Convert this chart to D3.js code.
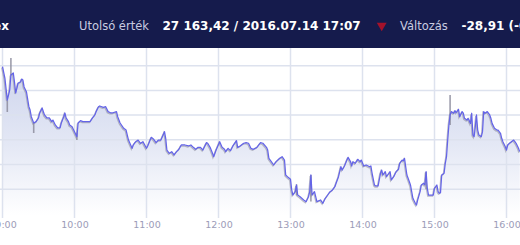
<!DOCTYPE html>
<html>
<head>
<meta charset="utf-8">
<script src="https://cdn.jsdelivr.net/npm/d3@7"></script>
<style>
    body { margin: 0; background: #fff; }
    svg { display: block; }
    .grid line { stroke: #dde2ee; stroke-width: 1.5; }
    .axis text { font-family: "DejaVu Sans", sans-serif; font-size: 9.5px; fill: #9c9cb8; }
    .head text { font-family: "DejaVu Sans", sans-serif; }
    .head .lbl { font-size: 11.5px; fill: #c9cce0; }
    .head .val { font-size: 12px; font-weight: bold; fill: #fff; }
</style>
</head>
<body>
<svg id="chart" width="520" height="245"></svg>
<script>
// BUX, 2016.07.14 intraday, minutes after 09:00
var minutes = [0, 2, 4, 6, 7, 9, 10, 11, 12, 13, 15, 16, 17, 18, 20, 22, 23, 24, 26, 28,
    30, 31, 33, 35, 37, 39, 41, 42, 44, 46, 48, 49, 51, 52, 53, 55, 56, 58, 60, 62,
    63, 65, 67, 70, 73, 75, 77, 78, 80, 81, 84, 86, 88, 90, 92, 95, 96, 98, 101, 103,
    105, 108, 109, 111, 113, 115, 117, 120, 121, 124, 126, 128, 130, 132, 133, 135, 136, 137, 139, 141,
    143, 145, 147, 149, 152, 155, 157, 159, 161, 163, 165, 167, 170, 171, 173, 175, 176, 178, 181, 183,
    185, 186, 188, 190, 192, 195, 196, 198, 201, 203, 205, 207, 209, 212, 215, 217, 220, 221, 222, 224,
    226, 228, 231, 233, 235, 236, 238, 240, 241, 242, 244, 245, 246, 248, 251, 253, 255, 256, 257, 258,
    260, 262, 265, 267, 269, 271, 273, 275, 277, 278, 280, 282, 283, 285, 287, 288, 290, 291, 292, 294,
    296, 298, 299, 301, 303, 306, 307, 308, 310, 311, 313, 315, 316, 317, 319, 320, 321, 323, 324, 326,
    328, 330, 331, 333, 334, 335, 337, 338, 340, 341, 342, 344, 345, 346, 348, 349, 351, 352, 353, 354,
    355, 358, 359, 360, 362, 363, 364, 365, 366, 368, 369, 370, 371, 372, 373, 374, 376, 377, 378, 380,
    381, 383, 384, 385, 387, 388, 390, 391, 392, 393, 394, 395, 396, 397, 399, 400, 401, 402, 404, 406,
    407, 408, 410, 412, 413, 415, 416, 417, 419, 420, 421, 423, 426, 427, 428, 430, 431];

var values = [27219.2, 27210.0, 27192.2, 27200.3, 27212.5, 27214.1, 27206.8, 27197.9, 27201.9, 27206.0,
    27206.8, 27209.2, 27208.4, 27202.8, 27198.7, 27186.8, 27184.1, 27178.7, 27173.6, 27174.7,
    27177.7, 27181.7, 27185.8, 27180.1, 27177.7, 27177.7, 27174.7, 27176.0, 27172.0, 27169.6,
    27169.6, 27173.6, 27178.7, 27181.7, 27177.7, 27174.7, 27172.0, 27170.6, 27166.6, 27162.5,
    27173.6, 27175.5, 27174.7, 27174.7, 27174.7, 27177.7, 27180.1, 27182.8, 27186.8, 27187.4,
    27186.3, 27186.8, 27182.8, 27181.9, 27181.9, 27182.8, 27178.7, 27173.6, 27169.3, 27167.9,
    27159.8, 27153.1, 27155.8, 27158.5, 27159.8, 27157.2, 27158.5, 27153.1, 27155.0, 27162.0,
    27160.4, 27157.7, 27159.8, 27159.8, 27162.0, 27166.6, 27161.2, 27151.7, 27149.1, 27150.4,
    27147.7, 27150.4, 27152.3, 27155.8, 27155.8, 27155.0, 27155.8, 27153.9, 27152.3, 27153.9,
    27153.9, 27151.7, 27157.7, 27157.2, 27153.9, 27149.1, 27146.3, 27151.7, 27158.5, 27153.9,
    27152.3, 27150.4, 27153.1, 27151.2, 27155.0, 27159.3, 27153.9, 27155.0, 27157.2, 27157.7,
    27157.2, 27153.1, 27152.3, 27153.9, 27157.7, 27157.2, 27153.9, 27151.7, 27145.0, 27142.3,
    27139.6, 27142.3, 27145.0, 27146.3, 27143.6, 27131.5, 27129.6, 27128.0, 27119.4, 27115.3,
    27118.0, 27123.4, 27115.3, 27113.9, 27111.3, 27109.9, 27113.9, 27118.0, 27131.5, 27115.3,
    27118.0, 27109.9, 27111.3, 27108.6, 27112.6, 27115.3, 27118.0, 27119.4, 27122.0, 27124.8,
    27130.1, 27138.2, 27135.5, 27138.8, 27143.6, 27145.8, 27142.3, 27138.8, 27142.3, 27141.0,
    27144.2, 27142.3, 27143.6, 27138.8, 27139.6, 27138.2, 27138.8, 27132.9, 27123.4, 27122.6,
    27122.6, 27132.9, 27135.5, 27131.5, 27134.2, 27130.1, 27131.5, 27134.2, 27127.5, 27130.1,
    27134.2, 27136.1, 27141.0, 27143.6, 27143.0, 27145.0, 27131.5, 27128.8, 27123.4, 27118.0,
    27112.6, 27108.6, 27107.2, 27111.3, 27118.0, 27123.4, 27124.8, 27123.4, 27134.2, 27120.7,
    27115.3, 27115.3, 27115.3, 27120.7, 27123.4, 27118.0, 27116.7, 27117.2, 27131.5, 27132.9,
    27141.0, 27146.3, 27159.8, 27172.0, 27180.1, 27182.8, 27181.5, 27183.6, 27181.9, 27184.7,
    27178.7, 27182.8, 27181.5, 27177.4, 27176.0, 27177.4, 27173.3, 27181.5, 27163.9, 27162.5,
    27170.6, 27180.1, 27167.9, 27163.9, 27162.5, 27166.6, 27182.8, 27181.5, 27182.8, 27180.1,
    27177.4, 27173.3, 27169.3, 27167.9, 27167.9, 27165.3, 27161.2, 27158.5, 27154.4, 27151.7,
    27155.8, 27157.7, 27159.8, 27158.5, 27157.2, 27153.1, 27150.4];

// grey min/max spikes behind the line
var wickMinutes = [4, 7, 26, 62, 245, 257, 353, 373];
var wickLow = [27182.5, 27212.5, 27165.5, 27159.8, 27115.0, 27110.0, 27120.0, 27172.0];
var wickHigh = [27192.0, 27226.2, 27174.0, 27166.0, 27124.0, 27131.5, 27134.0, 27196.3];

var yTicks = [27120, 27140, 27160, 27180, 27200, 27220, 27240];
var hourTicks = [9, 10, 11, 12, 13, 14, 15, 16];

var title = "BUX index"
    , lastLabel = "Utolsó érték"
    , lastValue = "27 163,42 / 2016.07.14 17:07"
    , changeLabel = "Változás"
    , changeValue = "-28,91 (-0,11%)";

var svg = d3.select("#chart")
    , at = function(h, m) { return new Date(2016, 6, 14, h, m || 0); }
    , data = minutes.map(function(m, i) { return {t: d3.timeMinute.offset(at(9), m), v: values[i]}; })
    , bottom = 215
    ;

var x = d3.scaleTime().domain([at(9), at(16)]).range([2.5, 506.5]);
var y = d3.scaleLinear().domain([27120, 27240]).range([189.2, 41]);

var defs = svg.append("defs");
var grad = defs.append("linearGradient")
    .attr("id", "fill")
    .attr("gradientUnits", "userSpaceOnUse")
    .attr("x1", 0).attr("x2", 0)
    .attr("y1", 60).attr("y2", bottom);
grad.append("stop").attr("offset", 0).attr("stop-color", "#ccd3ec");
grad.append("stop").attr("offset", 0.55).attr("stop-color", "#e4e8f5");
grad.append("stop").attr("offset", 1).attr("stop-color", "#ffffff");

var grid = svg.append("g").attr("class", "grid");

grid.selectAll("line.h")
    .data(yTicks)
    .enter().append("line")
    .attr("class", "h")
    .attr("x1", 0).attr("x2", 520)
    .attr("y1", function(d) { return y(d); })
    .attr("y2", function(d) { return y(d); });

var area = d3.area()
    .x(function(d) { return x(d.t); })
    .y0(bottom)
    .y1(function(d) { return y(d.v); });

var line = d3.line()
    .x(function(d) { return x(d.t); })
    .y(function(d) { return y(d.v); });

svg.append("path")
    .attr("d", area(data))
    .attr("fill", "url(#fill)");

grid.raise();
grid.selectAll("line.v")
    .data(hourTicks)
    .enter().append("line")
    .attr("class", "v")
    .attr("x1", function(d) { return x(at(d)); })
    .attr("x2", function(d) { return x(at(d)); })
    .attr("y1", 48).attr("y2", 218);

svg.append("g")
    .selectAll("line")
    .data(wickMinutes)
    .enter().append("line")
    .attr("x1", function(m) { return x(d3.timeMinute.offset(at(9), m)); })
    .attr("x2", function(m) { return x(d3.timeMinute.offset(at(9), m)); })
    .attr("y1", function(m, i) { return y(wickLow[i]); })
    .attr("y2", function(m, i) { return y(wickHigh[i]); })
    .attr("stroke", "#8e8e9e")
    .attr("stroke-width", 1.6)
    .attr("opacity", 0.85);

// grey shadow under the price line
svg.append("path")
    .attr("d", line(data))
    .attr("transform", "translate(-0.8,1)")
    .attr("fill", "none")
    .attr("stroke", "#9090a0")
    .attr("stroke-width", 1.3)
    .attr("opacity", 0.6);

svg.append("path")
    .attr("d", line(data))
    .attr("fill", "none")
    .attr("stroke", "#6464e8")
    .attr("stroke-width", 1.25)
    .attr("stroke-linejoin", "round");

var xAxis = d3.axisBottom(x)
    .tickValues(hourTicks.map(function(h) { return at(h); }))
    .tickFormat(d3.timeFormat("%H:%M"))
    .tickSize(0)
    .tickPadding(0);

svg.append("g")
    .attr("class", "axis")
    .attr("transform", "translate(0,221)")
    .call(xAxis)
    .call(function(g) { g.select(".domain").remove(); });

// header band
var head = svg.append("g").attr("class", "head");

head.append("rect")
    .attr("width", 520).attr("height", 48)
    .attr("fill", "#151b4c");

head.append("text").attr("class", "val")
    .attr("x", 9).attr("y", 29.5)
    .attr("text-anchor", "end")
    .text(title);

head.append("text").attr("class", "lbl")
    .attr("x", 79).attr("y", 29.5)
    .text(lastLabel);

head.append("text").attr("class", "val")
    .attr("x", 162.5).attr("y", 29.5)
    .text(lastValue);

head.append("path")
    .attr("d", d3.symbol().type(d3.symbolTriangle).size(42))
    .attr("transform", "translate(381.7,25.5) rotate(180)")
    .attr("fill", "#a3122b");

head.append("text").attr("class", "lbl")
    .attr("x", 400).attr("y", 29.5)
    .text(changeLabel);

head.append("text").attr("class", "val")
    .attr("x", 461.5).attr("y", 29.5)
    .text(changeValue);
</script>
</body>
</html>
